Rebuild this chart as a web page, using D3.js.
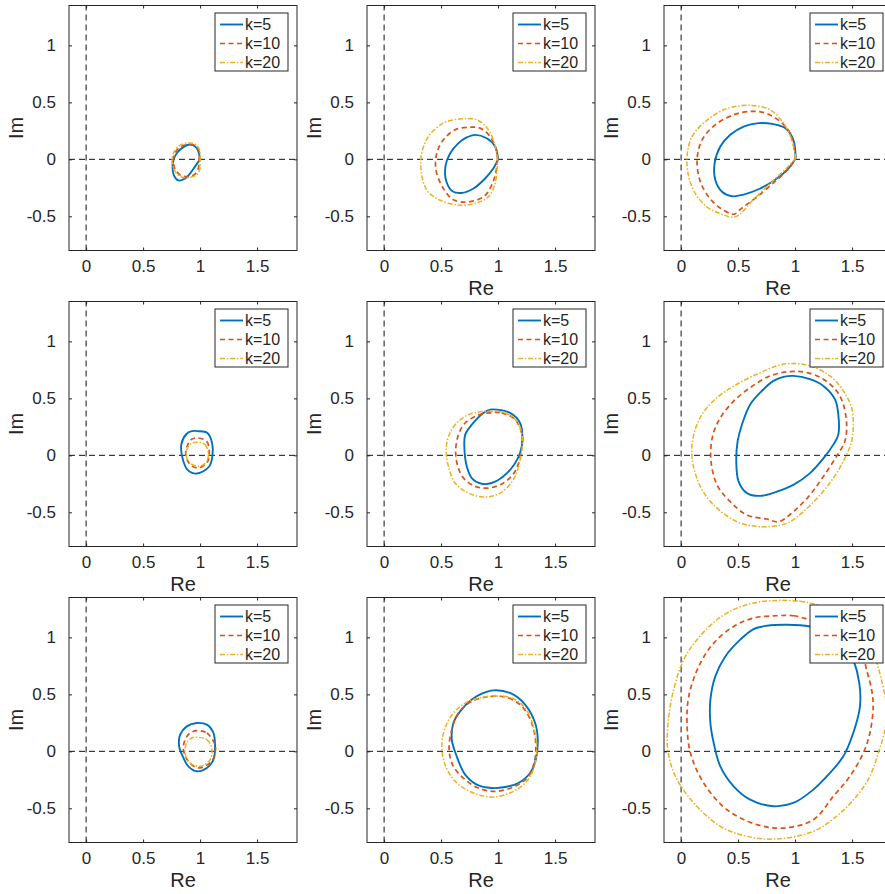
<!DOCTYPE html>
<html><head><meta charset="utf-8">
<script src="https://cdn.jsdelivr.net/npm/d3@7"></script>
<style>
body{margin:0;background:#fff;}
svg{display:block;}
text{font-family:"Liberation Sans",Arial,Helvetica,sans-serif;fill:#262626;}
</style>
</head><body>
<svg id="chart" width="885" height="894"></svg>
<script>
// ---------- labels / ticks ----------
const seriesLabels = ["k=5", "k=10", "k=20"];
const xTickValues = [0, 0.5, 1, 1.5];
const xTickLabels = ["0", "0.5", "1", "1.5"];
const yTickValues = [-0.5, 0, 0.5, 1];
const yTickLabels = ["-0.5", "0", "0.5", "1"];
const xDomain = [-0.15, 1.85];
const yDomain = [-0.8, 1.35];
const xAxisTitle = "Re";
const yAxisTitle = "Im";
const showXTitle = [false, true, true, true, true, true, true, true, true];
const cornerPanels = [true, true, true, false, false, false, false, false, false];

// ---------- data (Re, Im) ----------
const p1_k5 = [[1.0,0.0],[0.985,0.07],[0.955,0.115],[0.91,0.13],[0.86,0.112],[0.80,0.06],[0.765,-0.01],[0.758,-0.07],[0.77,-0.14],[0.81,-0.185],[0.862,-0.172],[0.915,-0.12],[0.958,-0.06],[1.0,0.0]];
const p1_k10 = [[0.99,-0.01],[0.99,0.07],[0.955,0.12],[0.89,0.13],[0.82,0.105],[0.778,0.05],[0.765,-0.02],[0.782,-0.09],[0.83,-0.14],[0.895,-0.152],[0.955,-0.13],[0.985,-0.075],[0.99,-0.01]];
const p1_k20 = [[1.0,-0.01],[0.995,0.085],[0.956,0.134],[0.883,0.143],[0.81,0.114],[0.766,0.056],[0.754,-0.017],[0.772,-0.09],[0.825,-0.15],[0.898,-0.16],[0.97,-0.135],[1.0,-0.076],[1.0,-0.01]];

const p2_k5 = [[1.0,0.0],[0.974,0.112],[0.9,0.185],[0.8,0.215],[0.72,0.19],[0.65,0.14],[0.58,0.053],[0.54,-0.05],[0.545,-0.19],[0.6,-0.28],[0.68,-0.295],[0.784,-0.256],[0.886,-0.168],[0.959,-0.079],[1.0,0.0]];
const p2_k10 = [[0.995,0.0],[0.985,0.08],[0.93,0.2],[0.842,0.274],[0.754,0.282],[0.623,0.259],[0.52,0.171],[0.462,0.053],[0.455,-0.094],[0.52,-0.256],[0.608,-0.355],[0.725,-0.374],[0.871,-0.33],[0.944,-0.226],[0.985,-0.09],[0.995,0.0]];
const p2_k20 = [[0.995,0.0],[0.975,0.112],[0.915,0.259],[0.813,0.347],[0.681,0.356],[0.52,0.318],[0.389,0.2],[0.33,0.053],[0.325,-0.094],[0.374,-0.27],[0.491,-0.359],[0.667,-0.403],[0.813,-0.382],[0.915,-0.329],[0.974,-0.212],[0.995,0.0]];

const p3_k5 = [[1.005,0.01],[0.985,0.17],[0.913,0.274],[0.81,0.309],[0.679,0.318],[0.548,0.288],[0.431,0.215],[0.344,0.112],[0.294,-0.035],[0.3,-0.182],[0.359,-0.285],[0.446,-0.324],[0.548,-0.309],[0.694,-0.256],[0.84,-0.168],[0.942,-0.079],[1.005,0.01]];
const p3_k10 = [[1.005,0.01],[0.956,0.229],[0.869,0.332],[0.738,0.406],[0.606,0.421],[0.461,0.391],[0.3,0.303],[0.184,0.171],[0.14,-0.006],[0.169,-0.197],[0.242,-0.329],[0.329,-0.418],[0.431,-0.476],[0.47,-0.48],[0.53,-0.43],[0.665,-0.33],[0.84,-0.18],[0.942,-0.085],[1.005,0.01]];
const p3_k20 = [[1.005,0.01],[0.971,0.171],[0.898,0.318],[0.781,0.435],[0.636,0.471],[0.519,0.471],[0.373,0.435],[0.213,0.332],[0.096,0.2],[0.052,0.024],[0.067,-0.153],[0.125,-0.3],[0.227,-0.418],[0.344,-0.476],[0.475,-0.505],[0.636,-0.352],[0.81,-0.185],[0.942,-0.06],[1.005,0.01]];

const p4_k5 = [[0.985,0.212],[1.062,0.198],[1.105,0.109],[1.108,-0.009],[1.078,-0.1],[0.971,-0.16],[0.89,-0.128],[0.845,-0.02],[0.835,0.094],[0.878,0.185],[0.927,0.212]];
const p4_k10 = [[0.971,0.153],[1.059,0.122],[1.08,0.02],[1.059,-0.067],[0.985,-0.11],[0.912,-0.08],[0.874,0.007],[0.892,0.094],[0.921,0.138]];
const p4_k20 = [[0.985,0.114],[1.044,0.094],[1.073,0.007],[1.05,-0.067],[0.985,-0.096],[0.912,-0.067],[0.877,0.007],[0.897,0.079],[0.932,0.108]];

const p5_k5 = [[0.988,0.401],[1.105,0.372],[1.193,0.284],[1.213,0.138],[1.193,0.02],[1.14,-0.082],[1.047,-0.184],[0.944,-0.243],[0.856,-0.249],[0.769,-0.199],[0.725,-0.096],[0.705,0.05],[0.711,0.181],[0.769,0.269],[0.871,0.372],[0.929,0.401]];
const p5_k10 = [[0.915,0.372],[1.032,0.372],[1.149,0.313],[1.213,0.167],[1.2,0.02],[1.149,-0.14],[1.047,-0.243],[0.915,-0.287],[0.798,-0.272],[0.696,-0.199],[0.646,-0.096],[0.628,0.035],[0.652,0.181],[0.711,0.284],[0.813,0.348]];
const p5_k20 = [[0.9,0.386],[1.061,0.372],[1.164,0.299],[1.213,0.152],[1.193,-0.038],[1.134,-0.213],[1.018,-0.331],[0.886,-0.365],[0.74,-0.331],[0.623,-0.243],[0.564,-0.096],[0.545,0.02],[0.56,0.152],[0.623,0.269],[0.74,0.357]];

const p6_k5 = [[0.985,0.697],[1.131,0.668],[1.248,0.609],[1.35,0.491],[1.379,0.359],[1.379,0.182],[1.335,0.094],[1.262,-0.009],[1.131,-0.156],[0.985,-0.259],[0.84,-0.318],[0.694,-0.356],[0.577,-0.332],[0.504,-0.229],[0.484,-0.053],[0.496,0.124],[0.534,0.271],[0.606,0.447],[0.708,0.565],[0.81,0.653],[0.898,0.688]];
const p6_k10 = [[0.956,0.735],[1.102,0.726],[1.248,0.668],[1.364,0.565],[1.423,0.447],[1.452,0.271],[1.437,0.124],[1.364,-0.009],[1.248,-0.185],[1.131,-0.347],[0.985,-0.494],[0.854,-0.582],[0.752,-0.559],[0.577,-0.524],[0.431,-0.406],[0.315,-0.259],[0.26,-0.024],[0.28,0.182],[0.344,0.329],[0.461,0.476],[0.606,0.594],[0.781,0.697]];
const p6_k20 = [[0.956,0.806],[1.131,0.785],[1.306,0.697],[1.423,0.565],[1.496,0.418],[1.51,0.271],[1.496,0.124],[1.423,-0.053],[1.335,-0.2],[1.219,-0.347],[1.073,-0.494],[0.927,-0.597],[0.694,-0.626],[0.49,-0.582],[0.286,-0.435],[0.169,-0.274],[0.096,-0.024],[0.111,0.182],[0.184,0.359],[0.315,0.506],[0.49,0.624],[0.694,0.726],[0.84,0.785]];

const p7_k5 = [[0.971,0.249],[1.059,0.234],[1.117,0.161],[1.131,0.029],[1.117,-0.073],[1.059,-0.146],[0.971,-0.175],[0.897,-0.132],[0.854,-0.058],[0.816,0.044],[0.825,0.146],[0.883,0.219]];
const p7_k10 = [[0.971,0.181],[1.059,0.161],[1.131,0.058],[1.131,-0.015],[1.102,-0.088],[0.985,-0.146],[0.897,-0.088],[0.854,0.015],[0.868,0.102],[0.912,0.161]];
const p7_k20 = [[0.985,0.123],[1.059,0.102],[1.102,0.029],[1.088,-0.073],[1.0,-0.131],[0.912,-0.102],[0.868,-0.015],[0.883,0.073],[0.927,0.117]];

const p8_k5 = [[0.959,0.535],[1.105,0.512],[1.237,0.41],[1.325,0.249],[1.348,0.102],[1.33,-0.073],[1.281,-0.19],[1.178,-0.278],[1.061,-0.313],[0.944,-0.322],[0.813,-0.292],[0.711,-0.205],[0.637,-0.044],[0.594,0.102],[0.608,0.249],[0.667,0.351],[0.769,0.454],[0.857,0.506]];
const p8_k10 = [[0.944,0.483],[1.091,0.468],[1.208,0.395],[1.295,0.249],[1.33,0.073],[1.319,-0.088],[1.266,-0.219],[1.149,-0.307],[0.974,-0.351],[0.827,-0.322],[0.711,-0.249],[0.608,-0.132],[0.57,0.015],[0.594,0.19],[0.652,0.336],[0.769,0.439]];
const p8_k20 = [[0.944,0.483],[1.12,0.468],[1.237,0.38],[1.31,0.219],[1.339,0.044],[1.319,-0.132],[1.251,-0.263],[1.135,-0.351],[0.959,-0.401],[0.784,-0.366],[0.623,-0.263],[0.535,-0.117],[0.506,0.044],[0.535,0.205],[0.608,0.336],[0.74,0.439]];

const p9_k5 = [[0.927,1.111],[1.131,1.096],[1.306,1.044],[1.437,0.936],[1.51,0.804],[1.563,0.599],[1.569,0.395],[1.51,0.161],[1.423,-0.044],[1.306,-0.19],[1.16,-0.336],[0.985,-0.453],[0.81,-0.482],[0.606,-0.424],[0.461,-0.307],[0.344,-0.132],[0.286,0.073],[0.257,0.249],[0.257,0.453],[0.3,0.658],[0.388,0.833],[0.519,0.98],[0.636,1.073],[0.752,1.102]];
const p9_k10 = [[0.84,1.19],[0.985,1.19],[1.131,1.155],[1.3,1.11],[1.452,1.03],[1.569,0.92],[1.627,0.716],[1.671,0.541],[1.685,0.395],[1.656,0.161],[1.598,-0.015],[1.481,-0.219],[1.335,-0.395],[1.16,-0.6],[0.898,-0.673],[0.665,-0.643],[0.402,-0.512],[0.198,-0.278],[0.082,-0.015],[0.052,0.249],[0.067,0.482],[0.155,0.746],[0.286,0.95],[0.461,1.096],[0.636,1.17]];
const p9_k20 = [[0.869,1.325],[1.044,1.316],[1.16,1.295],[1.394,1.199],[1.569,1.038],[1.685,0.863],[1.75,0.658],[1.8,0.4],[1.79,0.2],[1.735,0.0],[1.656,-0.219],[1.539,-0.395],[1.364,-0.57],[1.16,-0.702],[0.84,-0.769],[0.577,-0.746],[0.344,-0.658],[0.111,-0.453],[-0.05,-0.219],[-0.117,0.015],[-0.108,0.307],[-0.058,0.57],[0.023,0.804],[0.14,0.98],[0.315,1.155],[0.49,1.257],[0.665,1.307]];

// ---------- layout / style ----------
const colLeft = [69, 367, 664];
const rowTop = [5.5, 301.5, 597.5];
const boxW = 228, boxH = 245;
const colors = ["#0072BD", "#D95319", "#EDB120"];
const dashes = [null, "5,3.5", "5,1.8,1.5,1.8"];
const widths = [1.9, 1.7, 1.5];
const axisColor = "#262626";

const panelSeries = [
  [p1_k5, p1_k10, p1_k20], [p2_k5, p2_k10, p2_k20], [p3_k5, p3_k10, p3_k20],
  [p4_k5, p4_k10, p4_k20], [p5_k5, p5_k10, p5_k20], [p6_k5, p6_k10, p6_k20],
  [p7_k5, p7_k10, p7_k20], [p8_k5, p8_k10, p8_k20], [p9_k5, p9_k10, p9_k20]
];

const svg = d3.select("#chart");

panelSeries.forEach((series, i) => {
  const r = Math.floor(i / 3), c = i % 3;
  const L = colLeft[c], T = rowTop[r];
  const x = d3.scaleLinear().domain(xDomain).range([L, L + boxW]);
  const y = d3.scaleLinear().domain(yDomain).range([T + boxH, T]);
  const g = svg.append("g");

  const clipId = "clip" + i;
  g.append("clipPath").attr("id", clipId)
    .append("rect").attr("x", L).attr("y", T).attr("width", boxW).attr("height", boxH);

  const plot = g.append("g").attr("clip-path", `url(#${clipId})`);

  // zero lines
  plot.append("line").attr("x1", x(xDomain[0])).attr("x2", x(xDomain[1]))
    .attr("y1", y(0)).attr("y2", y(0))
    .attr("stroke", "#111").attr("stroke-width", 1).attr("stroke-dasharray", "6,4");
  plot.append("line").attr("x1", x(0)).attr("x2", x(0))
    .attr("y1", y(yDomain[0])).attr("y2", y(yDomain[1]))
    .attr("stroke", "#111").attr("stroke-width", 1).attr("stroke-dasharray", "6,4");

  // curves
  const lineOpen = d3.line().x(d => x(d[0])).y(d => y(d[1])).curve(d3.curveCatmullRom.alpha(0.5));
  const lineClosed = d3.line().x(d => x(d[0])).y(d => y(d[1])).curve(d3.curveCatmullRomClosed.alpha(0.5));
  const gen = cornerPanels[i] ? lineOpen : lineClosed;
  series.forEach((pts, k) => {
    plot.append("path").attr("d", gen(pts))
      .attr("fill", "none").attr("stroke", colors[k])
      .attr("stroke-width", widths[k])
      .attr("stroke-linejoin", "round")
      .attr("stroke-dasharray", dashes[k]);
  });

  // axes (ticks inward)
  const fmtX = d => xTickLabels[xTickValues.indexOf(d)];
  const fmtY = d => yTickLabels[yTickValues.indexOf(d)];
  const tick = 3;
  const ax = [
    g.append("g").attr("transform", `translate(0,${T + boxH})`)
      .call(d3.axisBottom(x).tickValues(xTickValues).tickFormat(fmtX).tickSizeInner(-tick).tickSizeOuter(0).tickPadding(9)),
    g.append("g").attr("transform", `translate(0,${T})`)
      .call(d3.axisTop(x).tickValues(xTickValues).tickFormat("").tickSizeInner(-tick).tickSizeOuter(0)),
    g.append("g").attr("transform", `translate(${L},0)`)
      .call(d3.axisLeft(y).tickValues(yTickValues).tickFormat(fmtY).tickSizeInner(-tick).tickSizeOuter(0).tickPadding(13)),
    g.append("g").attr("transform", `translate(${L + boxW},0)`)
      .call(d3.axisRight(y).tickValues(yTickValues).tickFormat("").tickSizeInner(-tick).tickSizeOuter(0))
  ];
  ax.forEach(a => {
    a.select(".domain").remove();
    a.selectAll(".tick line").attr("stroke", axisColor).attr("stroke-width", 1);
    a.selectAll(".tick text").attr("fill", axisColor).style("font-size", "17px")
      .style("font-family", '"Liberation Sans", Arial, sans-serif');
  });
  g.append("rect").attr("x", L).attr("y", T).attr("width", boxW).attr("height", boxH)
    .attr("fill", "none").attr("stroke", axisColor).attr("stroke-width", 1);

  // axis titles
  if (showXTitle[i]) {
    g.append("text").attr("x", L + boxW / 2).attr("y", T + boxH + 37)
      .attr("text-anchor", "middle").attr("dominant-baseline", "central")
      .style("font-size", "20px").text(xAxisTitle);
  }
  g.append("text").attr("transform", `translate(${L - 53},${T + boxH / 2}) rotate(-90)`)
    .attr("text-anchor", "middle").attr("dominant-baseline", "central")
    .style("font-size", "20px").text(yAxisTitle);

  // legend
  const lgW = 73, lgH = 58;
  const lgX = L + boxW - 9 - lgW, lgY = T + 7.5;
  const lg = g.append("g");
  lg.append("rect").attr("x", lgX).attr("y", lgY).attr("width", lgW).attr("height", lgH)
    .attr("fill", "#fff").attr("stroke", axisColor).attr("stroke-width", 1);
  seriesLabels.forEach((lab, k) => {
    const yy = lgY + 11.5 + k * 19;
    lg.append("line").attr("x1", lgX + 5).attr("x2", lgX + 28).attr("y1", yy).attr("y2", yy)
      .attr("stroke", colors[k]).attr("stroke-width", widths[k]).attr("stroke-dasharray", dashes[k]);
    lg.append("text").attr("x", lgX + 30).attr("y", yy)
      .attr("dominant-baseline", "central").style("font-size", "16px").text(lab);
  });
});
</script>
</body></html>
